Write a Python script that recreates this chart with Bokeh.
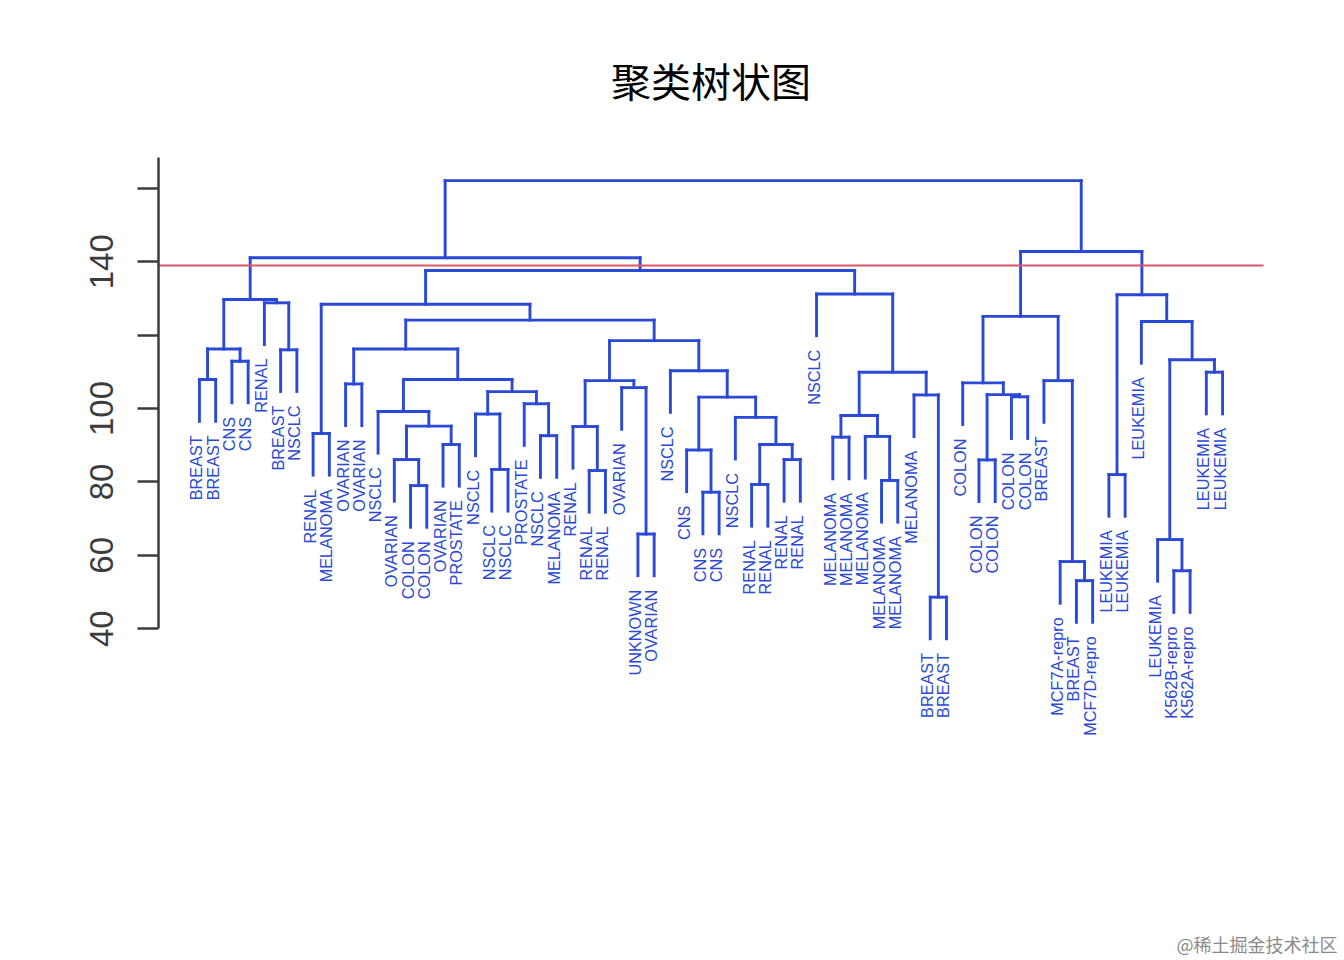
import numpy as np
from bokeh.plotting import figure
from bokeh.models import Range1d, LinearAxis, FixedTicker, Label
from bokeh.core.properties import value
from bokeh.embed import file_html
from bokeh.resources import INLINE

# ---- data -------------------------------------------------------------
title_text = "聚类树状图"
leaf_labels = [
    "BREAST", "BREAST", "CNS", "CNS", "RENAL", "BREAST", "NSCLC", "RENAL",
    "MELANOMA", "OVARIAN", "OVARIAN", "NSCLC", "OVARIAN", "COLON", "COLON",
    "OVARIAN", "PROSTATE", "NSCLC", "NSCLC", "NSCLC", "PROSTATE", "NSCLC",
    "MELANOMA", "RENAL", "RENAL", "RENAL", "OVARIAN", "UNKNOWN", "OVARIAN",
    "NSCLC", "CNS", "CNS", "CNS", "NSCLC", "RENAL", "RENAL", "RENAL", "RENAL",
    "NSCLC", "MELANOMA", "MELANOMA", "MELANOMA", "MELANOMA", "MELANOMA",
    "MELANOMA", "BREAST", "BREAST", "COLON", "COLON", "COLON", "COLON",
    "COLON", "BREAST", "MCF7A-repro", "BREAST", "MCF7D-repro", "LEUKEMIA",
    "LEUKEMIA", "LEUKEMIA", "LEUKEMIA", "K562B-repro", "K562A-repro",
    "LEUKEMIA", "LEUKEMIA",
]
# merge table (negative = leaf position in display order, positive = merge row)
merge_left = [-1, -3, 1, -6, -5, 3, -8, -10, -14, -13, -16, 10, -12, -19, -18,
              -22, -21, 15, 13, 8, -25, -24, -28, -27, 22, -32, -31, -35, -37,
              28, -34, 27, -30, 25, 20, 7, -40, -43, -42, 37, -46, -45, 40, -39,
              36, 6, -49, -51, 47, -48, -55, -54, -53, 50, -57, -61, -60, -63,
              57, -59, 55, 54, 46]
merge_right = [-2, -4, 2, -7, 4, 5, -9, -11, -15, 9, -17, 11, 12, -20, 14,
               -23, 16, 17, 18, 19, -26, 21, -29, 23, 24, -33, 26, -36, -38,
               29, 30, 31, 32, 33, 34, 35, -41, -44, 38, 39, -47, 41, 42, 43,
               44, 45, -50, -52, 48, 49, -56, 51, 52, 53, -58, -62, 56, -64,
               58, 59, 60, 61, 62]
merge_height = [107.9, 112.9, 116.2, 116.0, 128.8, 129.7, 93.2, 106.7, 79.0,
                86.1, 90.2, 95.2, 99.2, 83.4, 98.5, 92.6, 101.3, 104.6, 107.9,
                116.2, 83.1, 95.1, 65.8, 105.7, 107.6, 77.2, 88.7, 79.3, 86.1,
                90.2, 97.6, 103.1, 110.3, 118.5, 124.1, 128.4, 92.2, 80.4, 92.4,
                98.1, 48.6, 103.7, 109.9, 131.2, 137.6, 141.1, 86.0, 103.2,
                103.8, 107.0, 53.1, 58.3, 107.6, 125.1, 82.0, 55.8, 64.3, 109.9,
                113.3, 123.7, 131.0, 142.8, 162.1]
cut_height = 139
y_ticks = [40, 60, 80, 100, 120, 140, 160]
y_tick_text = ["40", "60", "80", "100", "", "140", ""]
watermark = "@稀土掘金技术社区"

# ---- dendrogram geometry ---------------------------------------------
n = len(leaf_labels)
leaf_x = np.arange(1, n + 1, dtype=float)
hang = 0.1 * (max(merge_height) - min(merge_height))
leaf_bottom = np.zeros(n)
node_x, node_y = {}, {}
hx0, hx1, hy = [], [], []
vx, vy0, vy1 = [], [], []
for i, (a, b, h) in enumerate(zip(merge_left, merge_right, merge_height)):
    xs = []
    for c in (a, b):
        if c < 0:
            x = leaf_x[-c - 1]
            y0 = h - hang
            leaf_bottom[-c - 1] = y0
        else:
            x = node_x[c]
            y0 = node_y[c]
        vx.append(x); vy0.append(y0); vy1.append(h); xs.append(x)
    hx0.append(xs[0]); hx1.append(xs[1]); hy.append(h)
    node_x[i + 1] = (xs[0] + xs[1]) / 2
    node_y[i + 1] = h

blue = "#2a49d6"

# R-style plot region (4% extension) and its pixel geometry
ext = 0.04 * (n - 1)
x_lo, x_hi_region = 1 - ext, n + ext
W, H = 1344, 960
left, top = 158, 157
region_w = 1105                      # pixel width of the R plot region
ux = (x_hi_region - x_lo) / region_w  # data units per pixel (x)
x_hi = x_hi_region + (W - left - region_w) * ux
y_top = 168.4
uy = 20 / 73.4                        # data units per pixel (y)
y_lo = y_top - (H - top) * uy

p = figure(width=W, height=H, output_backend="svg", toolbar_location=None,
           x_range=Range1d(x_lo, x_hi), y_range=Range1d(y_lo, y_top),
           x_axis_location=None, y_axis_location=None,
           min_border_left=left, min_border_right=0, min_border_top=top,
           min_border_bottom=0)
p.outline_line_color = None
p.grid.visible = False
p.background_fill_color = "white"
p.border_fill_color = "white"

yax = LinearAxis(ticker=FixedTicker(ticks=y_ticks), bounds=(40, y_top))
yax.major_label_overrides = {t: s for t, s in zip(y_ticks, y_tick_text)}
yax.axis_line_width = 2.5
yax.axis_line_color = "#3c3c3c"
yax.major_tick_line_width = 2.5
yax.major_tick_line_color = "#3c3c3c"
yax.major_tick_out = 21
yax.major_tick_in = 0
yax.minor_tick_line_color = None
yax.major_label_orientation = "vertical"
yax.major_label_text_font = "Liberation Sans"
yax.major_label_text_font_size = "33px"
yax.major_label_text_color = "#3c3c3c"
yax.major_label_standoff = 24
p.add_layout(yax, "left")

p.segment(x0=vx, y0=vy0, x1=vx, y1=vy1, line_color=blue, line_width=2.9,
          line_cap="square")
p.segment(x0=hx0, y0=hy, x1=hx1, y1=hy, line_color=blue, line_width=2.9,
          line_cap="square")

p.text(x=leaf_x, y=leaf_bottom, text=leaf_labels, angle=np.pi / 2,
       text_align="right", text_baseline="middle", x_offset=-3, y_offset=14,
       text_font=value("Liberation Sans"), text_font_size="16.3px",
       text_color=blue)

# cut line across the plot region
p.segment(x0=[x_lo], y0=[cut_height], x1=[x_hi_region], y1=[cut_height],
          line_color="#DF536B", line_width=2)

# title centred over the R plot region (frame extends further right)
title_w = 200
p.title.text = title_text
p.title.align = "left"
p.title.offset = (region_w - title_w) / 2
p.title.text_font = "Noto Sans CJK SC"
p.title.text_font_size = "40px"
p.title.text_font_style = "normal"
p.title.text_color = "black"
p.title.standoff = 97

# watermark in the bottom-right corner (screen units measured from frame bottom-left)
p.add_layout(Label(x=W - 7 - left, y=17, x_units="screen", y_units="screen",
                   text=watermark, text_align="right", text_baseline="middle",
                   text_font="Noto Sans CJK SC", text_font_size="18px",
                   text_color="#8a8a8a"))

open("out.html", "w").write(file_html(p, INLINE))
